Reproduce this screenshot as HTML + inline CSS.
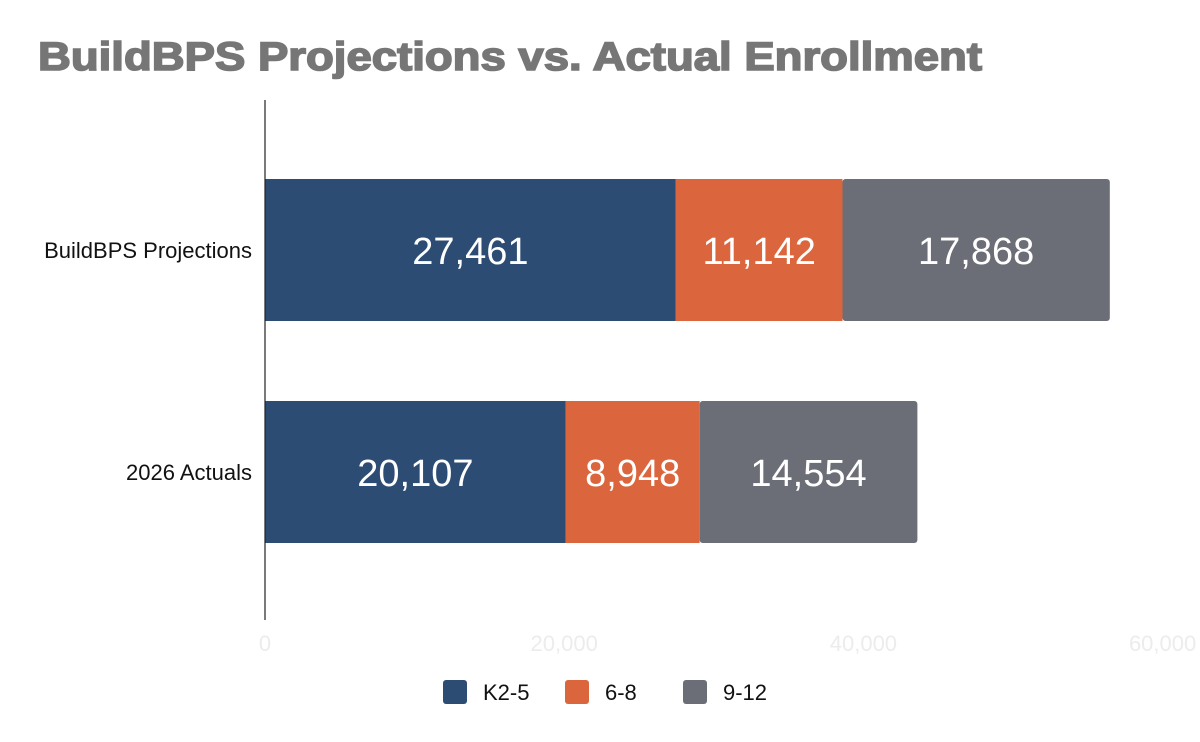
<!DOCTYPE html>
<html><head><meta charset="utf-8"><style>
body{margin:0;background:#fff;}
svg{display:block;font-family:"Liberation Sans",sans-serif;}
</style></head><body>
<svg id="chart" width="1200" height="742">
<text x="38" y="70" font-size="40" font-weight="bold" fill="#767676" stroke="#767676" stroke-width="1.6" textLength="944" lengthAdjust="spacingAndGlyphs">BuildBPS Projections vs. Actual Enrollment</text>
<g id="bars"></g>
<line x1="265" y1="100" x2="265" y2="620" stroke="#222" stroke-width="1.2"/>
<g id="ticks"></g>
<g id="legend"></g>
</svg>
<script>
const categories=["BuildBPS Projections","2026 Actuals"];
const seriesNames=["K2-5","6-8","9-12"];
const k25=[27461,20107];
const g68=[11142,8948];
const g912=[17868,14554];
const tickValues=[0,20000,40000,60000];
const tickLabels=["0","20,000","40,000","60,000"];
const colors=["#2c4c74","#db663e","#6b6e76"];
const NS="http://www.w3.org/2000/svg";
const x0=265,scale=0.01496;
const xs=v=>x0+v*scale;
const rowTop=[179,401],barH=142;
function mk(tag,attrs,parent){const e=document.createElementNS(NS,tag);for(const k in attrs)e.setAttribute(k,attrs[k]);parent.appendChild(e);return e;}
const bars=document.getElementById('bars');
const series=[k25,g68,g912];
categories.forEach((c,i)=>{
  const y=rowTop[i];
  const lab=mk('text',{x:252,y:y+barH/2+8,'text-anchor':'end','font-size':22,fill:'#111'},bars);
  lab.textContent=c;
  
  
  let acc=0;
  series.forEach((s,j)=>{
    const xa=xs(acc),xb=xs(acc+s[i]);
    const r=mk('rect',{x:xa,y:y,width:xb-xa,height:barH,fill:colors[j]},bars);
    if(j===2){r.setAttribute('rx',3);}
    
    
    const t=mk('text',{x:(xa+xb)/2,y:y+barH/2+14,'text-anchor':'middle','font-size':38,fill:'#fff'},bars);
    t.textContent=s[i].toLocaleString('en-US');
    
    
    acc+=s[i];
  });
});
const ticks=document.getElementById('ticks');
tickValues.forEach((v,i)=>{
  const t=mk('text',{x:xs(v),y:651,'text-anchor':'middle','font-size':22,fill:'#ececec'},ticks);
  t.textContent=tickLabels[i];
  
  
});
const legend=document.getElementById('legend');
const lx=[443,565,683];
seriesNames.forEach((n,i)=>{
  const r=mk('rect',{x:lx[i],y:680,width:24,height:24,rx:3,fill:colors[i]},legend);
  
  
  const t=mk('text',{x:lx[i]+40,y:700,'font-size':22,fill:'#111'},legend);
  t.textContent=n;
  
  
});
</script>
</body></html>
